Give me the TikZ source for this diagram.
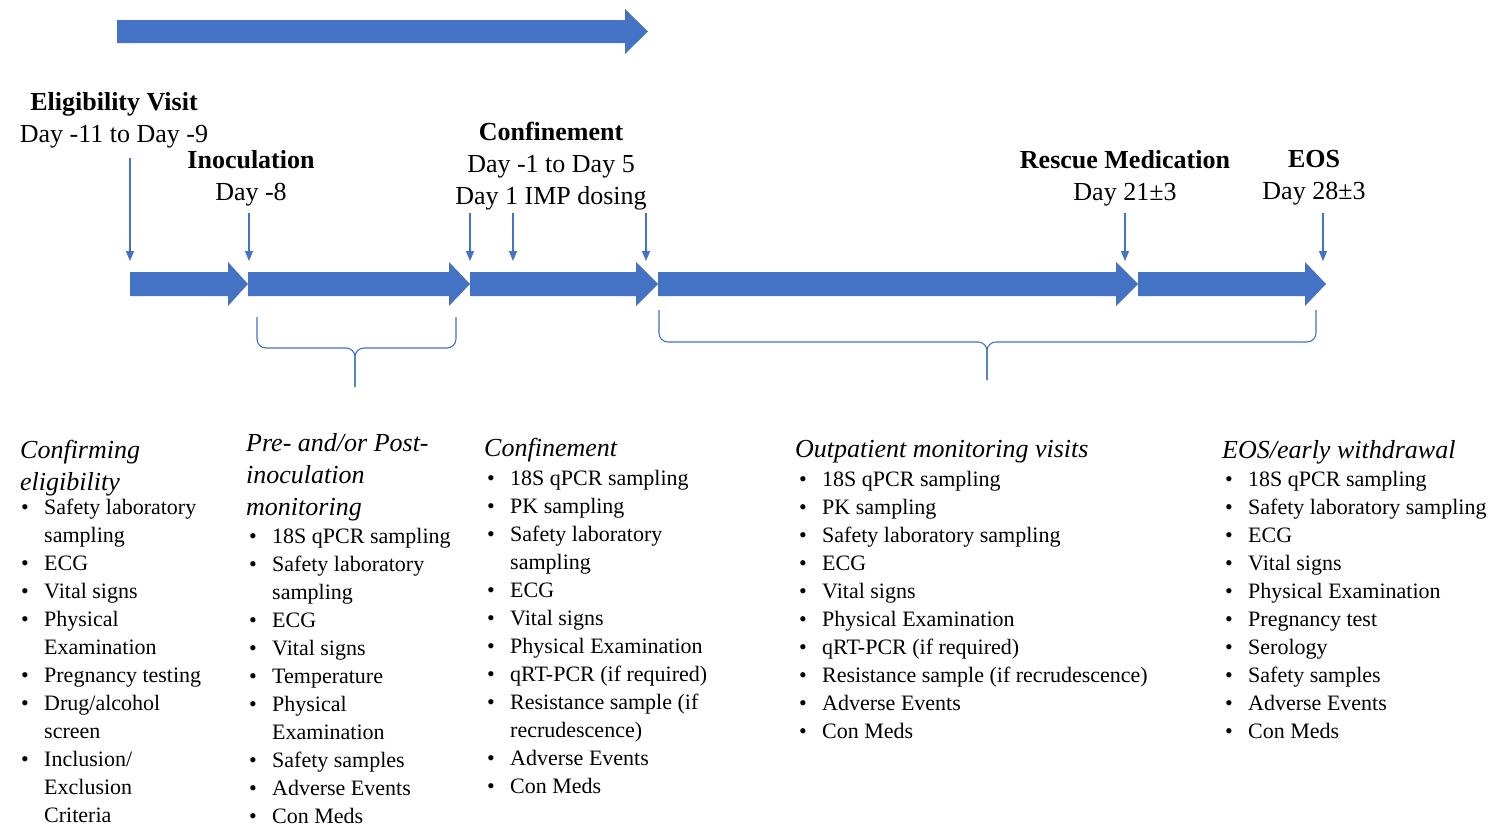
\documentclass[tikz,border=0pt]{standalone}
\usepackage{fontspec}
\setmainfont{Liberation Serif}
\usetikzlibrary{arrows.meta}
\definecolor{arrowBlue}{HTML}{4472C4}
\newcommand{\listItem}[1]{\makebox[23pt][l]{\textbullet}#1}
\newcommand{\listCont}{\hspace*{23pt}}

\begin{document}
\begin{tikzpicture}
[x=1pt,y=-1pt,
  blockDecorate/.style={fill=arrowBlue,draw=none},%
  tickDecorate/.style={draw=arrowBlue,line width=1.2pt,-{Triangle[width=8pt,length=10pt]}},%
  braceDecorate/.style={draw=arrowBlue,line width=1.1pt,rounded corners=9pt},%
  labelDecorate/.style={anchor=north,align=center,inner sep=0pt,font=\fontsize{26}{32}\selectfont},%
  headDecorate/.style={anchor=north west,align=left,inner sep=0pt,font=\fontsize{26}{32}\selectfont\itshape},%
  listDecorate/.style={anchor=north west,align=left,inner sep=0pt,font=\fontsize{22}{28}\selectfont}]
\useasboundingbox (0,0) rectangle (1495,827);
%% block arrows
\fill[blockDecorate] (117,20) -- (625,20) -- (625,9) -- (648,31.5) -- (625,54) -- (625,43) -- (117,43) -- cycle;
\foreach \xa/\xh/\xb in {
  130/228/248, 248/449/470, 470/636/658, 658/1116/1138, 1138/1305/1326}
{
  \fill[blockDecorate] (\xa,272) -- (\xh,272) -- (\xh,262) -- (\xb,284) -- (\xh,306) -- (\xh,296) -- (\xa,296) -- cycle;
}
%% visit labels
\node (eligLabel) at (114,92) [labelDecorate] {\textbf{Eligibility Visit}\\Day -11 to Day -9};
\node (inocLabel) at (251,150) [labelDecorate] {\textbf{Inoculation}\\Day -8};
\node (confLabel) at (551,122) [labelDecorate] {\textbf{Confinement}\\Day -1 to Day 5\\Day 1 IMP dosing};
\node (rescueLabel) at (1125,150) [labelDecorate] {\textbf{Rescue Medication}\\Day 21±3};
\node (eosLabel) at (1314,150) [labelDecorate] {\textbf{EOS}\\Day 28±3};
%% day ticks
\foreach \tickname/\x/\y in {
  a/130/158, b/249/213, c/470/213, d/513/213, e/646/213, f/1125/213, g/1323/213}
{
  \coordinate (tick\tickname Top) at (\x,\y);
  \coordinate (tick\tickname Bot) at (\x,261);
  \draw[tickDecorate] (tick\tickname Top) -- (tick\tickname Bot);
}
%% braces
\coordinate (braceAL) at (257,317);
\coordinate (braceAR) at (456,317);
\coordinate (braceAC) at (355,348);
\coordinate (braceAM) at (355,387);
\coordinate (braceBL) at (659,310);
\coordinate (braceBR) at (1316,310);
\coordinate (braceBC) at (987,342);
\coordinate (braceBM) at (987,380);
\foreach \bracename in {A,B}
{
  \draw[braceDecorate] (brace\bracename L) |- (brace\bracename C) -- (brace\bracename M);
  \draw[braceDecorate] (brace\bracename R) |- (brace\bracename C) -- (brace\bracename M);
}
%% activity columns
\node (eligHead) at (20,440) [headDecorate] {Confirming\\eligibility};
\node (eligList) at (21,499) [listDecorate] {\listItem{Safety laboratory}\\\listCont sampling\\
  \listItem{ECG}\\\listItem{Vital signs}\\\listItem{Physical}\\\listCont Examination\\
  \listItem{Pregnancy testing}\\\listItem{Drug/alcohol}\\\listCont screen\\
  \listItem{Inclusion/}\\\listCont Exclusion\\\listCont Criteria};
\node (inocHead) at (246,433) [headDecorate] {Pre- and/or Post-\\inoculation\\monitoring};
\node (inocList) at (249,528) [listDecorate] {\listItem{18S qPCR sampling}\\
  \listItem{Safety laboratory}\\\listCont sampling\\\listItem{ECG}\\\listItem{Vital signs}\\
  \listItem{Temperature}\\\listItem{Physical}\\\listCont Examination\\
  \listItem{Safety samples}\\\listItem{Adverse Events}\\\listItem{Con Meds}};
\node (confHead) at (484,438) [headDecorate] {Confinement};
\node (confList) at (487,470) [listDecorate] {\listItem{18S qPCR sampling}\\\listItem{PK sampling}\\
  \listItem{Safety laboratory}\\\listCont sampling\\\listItem{ECG}\\\listItem{Vital signs}\\
  \listItem{Physical Examination}\\\listItem{qRT-PCR (if required)}\\
  \listItem{Resistance sample (if}\\\listCont recrudescence)\\
  \listItem{Adverse Events}\\\listItem{Con Meds}};
\node (outHead) at (795,440) [headDecorate] {Outpatient monitoring visits};
\node (outList) at (799,471) [listDecorate] {\listItem{18S qPCR sampling}\\\listItem{PK sampling}\\
  \listItem{Safety laboratory sampling}\\\listItem{ECG}\\\listItem{Vital signs}\\
  \listItem{Physical Examination}\\\listItem{qRT-PCR (if required)}\\
  \listItem{Resistance sample (if recrudescence)}\\
  \listItem{Adverse Events}\\\listItem{Con Meds}};
\node (eosHead) at (1222,440) [headDecorate] {EOS/early withdrawal};
\node (eosList) at (1225,471) [listDecorate] {\listItem{18S qPCR sampling}\\
  \listItem{Safety laboratory sampling}\\\listItem{ECG}\\\listItem{Vital signs}\\
  \listItem{Physical Examination}\\\listItem{Pregnancy test}\\\listItem{Serology}\\
  \listItem{Safety samples}\\\listItem{Adverse Events}\\\listItem{Con Meds}};
\end{tikzpicture}
\end{document}
